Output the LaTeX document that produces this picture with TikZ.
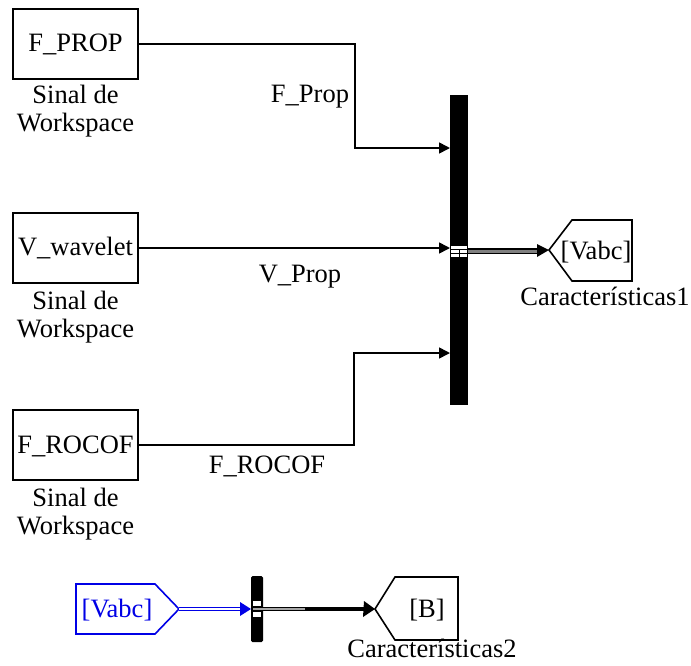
\documentclass[tikz,border=0pt]{standalone}
\usepackage{fontspec}
\setmainfont{Liberation Serif}
\usetikzlibrary{arrows.meta}
\definecolor{sblue}{RGB}{0,0,230}
\begin{document}
\begin{tikzpicture}[x=1pt,y=-1pt,
  every node/.style={font=\fontsize{26.5}{28}\selectfont},
  blk/.style={draw,line width=1.6pt,minimum width=125pt,minimum height=70pt,inner sep=0pt},
  lbl/.style={inner sep=0pt,anchor=base},
  sig/.style={line width=1.6pt,-{Triangle[length=11pt,width=11pt]}},
  barst/.style={fill=black,draw=none,inner sep=0pt},
  bus/.style={line width=1.4pt,double=gray,double distance=3pt}
]
\useasboundingbox (0,0) rectangle (691,665);
% source blocks
\node[blk] (fprop) at (75.5,44) {};
\node[lbl] (t1) at (75.5,51) {F\_PROP};
\node[lbl] (c1a) at (75.5,103) {Sinal de};
\node[lbl] (c1b) at (75.5,131) {Workspace};
\node[blk] (vwav) at (75.5,248) {};
\node[lbl] (t2) at (75.5,255) {V\_wavelet};
\node[lbl] (c2a) at (75.5,309) {Sinal de};
\node[lbl] (c2b) at (75.5,337) {Workspace};
\node[blk] (frocof) at (75.5,445) {};
\node[lbl] (t3) at (75.5,453) {F\_ROCOF};
\node[lbl] (c3a) at (75.5,506) {Sinal de};
\node[lbl] (c3b) at (75.5,534) {Workspace};
% mux bar
\node[barst,minimum width=18pt,minimum height=310pt] (mux) at (459,250) {};
\coordinate (in1) at (450,148);
\coordinate (in2) at (450,248);
\coordinate (in3) at (450,353);
\coordinate (k1) at (355,44);
\coordinate (k1b) at (355,148);
\coordinate (k3) at (354,445);
\coordinate (k3b) at (354,353);
\draw[sig] (fprop.east) -- (k1) -- (k1b) -- (in1);
\draw[sig] (vwav.east) -- (in2);
\draw[sig] (frocof.east) -- (k3) -- (k3b) -- (in3);
\node[lbl] (l1) at (310,102) {F\_Prop};
\node[lbl] (l2) at (300,282) {V\_Prop};
\node[lbl] (l3) at (267,473) {F\_ROCOF};
% port marks on bar
\fill[white] (451,246) rectangle (467,257);
\draw[line width=0.6pt] (451,249) -- (467,249) (451,253) -- (467,253) (459,249) -- (459,257);
% goto 1
\coordinate (g1) at (549,250);
\draw[line width=1.6pt] (g1) -- (572,220) -- (632,220) -- (632,281) -- (572,281) -- cycle;
\node[lbl] (gt1) at (596,259) {[Vabc]};
\node[lbl] (gc1) at (605,305) {Características1};
\coordinate (m1) at (468,251);
\coordinate (a1) at (537,251);
\draw[bus] (m1) -- (a1);
\fill (a1) ++(0,-7) -- (g1) -- ++(-12,7) -- cycle;
% bottom from block
\coordinate (fp) at (179,609);
\draw[sblue,line width=1.6pt] (76,584) -- (155,584) -- (fp) -- (155,634) -- (76,634) -- cycle;
\node[lbl,text=sblue] (ft) at (117,617) {[Vabc]};
\node[barst,minimum width=12pt,minimum height=66pt,rounded corners=1.5pt] (mux2) at (257,609) {};
\coordinate (b2in) at (251,609);
\coordinate (b2a) at (240,609);
\draw[line width=1.1pt,sblue,double=white,double distance=2.4pt] (fp) -- (b2a);
\fill[sblue] (b2a) ++(0,-7) -- (b2in) -- ++(-11,7) -- cycle;
\fill[white] (253,601) rectangle (261,606);
\fill[white] (253,612) rectangle (261,617);
\coordinate (b2out) at (263,609);
\coordinate (b2m) at (305,609);
\coordinate (g2) at (375,609);
\coordinate (b2e) at (364,609);
\draw[line width=1.1pt,double=gray!70,double distance=2.4pt] (253,609) -- (b2m);
\draw[line width=4.8pt] (b2m) -- (b2e);
\fill (b2e) ++(0,-8) -- (g2) -- ++(-12,8) -- cycle;
\draw[line width=1.6pt] (g2) -- (395,577) -- (458,577) -- (458,640) -- (395,640) -- cycle;
\node[lbl] (gt2) at (427,617) {[B]};
\node[lbl] (gc2) at (432,657) {Características2};
\end{tikzpicture}
\end{document}
